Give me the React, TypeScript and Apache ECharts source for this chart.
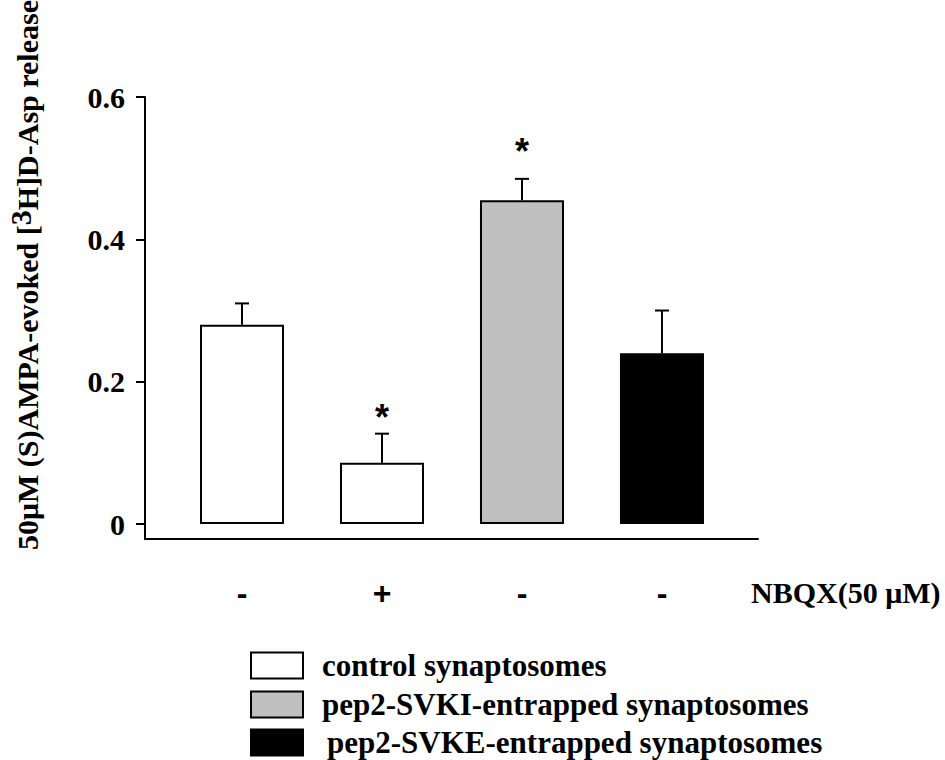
import React, { useEffect, useRef } from "react";
import * as echarts from "echarts";

const groups = ["control synaptosomes", "pep2-SVKI-entrapped synaptosomes", "pep2-SVKE-entrapped synaptosomes"];
const groupColors = ["#ffffff", "#c0c0c0", "#000000"];
const positions = [1, 2, 3, 4];
const barGroup = [0, 0, 1, 2];
const values = [0.28, 0.086, 0.455, 0.24];
const errors = [0.03, 0.041, 0.03, 0.06];
const signif = ["", "*", "*", ""];
const signifAt = [0, 0.156, 0.529, 0];
const nbqxLabels = ["-", "+", "-", "-"];
const yTicks = [0, 0.2, 0.4, 0.6];

const SERIF = "'Liberation Serif', 'Times New Roman', serif";
const SANS = "'Liberation Sans', Arial, sans-serif";

export default function App() {
  const ref = useRef<HTMLDivElement>(null);
  useEffect(() => {
    if (!ref.current) return;
    const chart = echarts.init(ref.current, null, { renderer: "svg" });
    const barSeries = groups.map((name, g) => ({
      type: "bar",
      name,
      barWidth: 84,
      barGap: "-100%",
      itemStyle: {
        color: groupColors[g],
        borderColor: "#000",
        borderWidth: 2,
      },
      data: positions
        .map((p, i) => (barGroup[i] === g ? [p, values[i]] : null))
        .filter((d) => d !== null),
      z: 2,
    }));
    const errSeries = {
      type: "custom",
      name: "err",
      z: 3,
      data: positions.map((p, i) => [p, values[i], errors[i], signifAt[i]]),
      renderItem: (params: any, api: any) => {
        const x = api.value(0);
        const v = api.value(1);
        const e = api.value(2);
        const p0 = api.coord([x, v]);
        const p1 = api.coord([x, v + e]);
        const sig = signif[params.dataIndex];
        const children: any[] = [
          { type: "line", shape: { x1: p0[0], y1: p0[1], x2: p1[0], y2: p1[1] }, style: { stroke: "#000", lineWidth: 2 } },
          { type: "line", shape: { x1: p1[0] - 7, y1: p1[1], x2: p1[0] + 7, y2: p1[1] }, style: { stroke: "#000", lineWidth: 2 } },
        ];
        if (sig) {
          const ps = api.coord([x, api.value(3)]);
          children.push({
            type: "text",
            x: ps[0],
            y: ps[1] + 4,
            style: { text: sig, font: `bold 36px ${SANS}`, fill: "#000", align: "center", verticalAlign: "middle" },
          });
        }
        return { type: "group", children };
      },
    };
    const legendTops = [650, 689, 727];
    const legendLefts = [250, 250, 250];
    const legends = groups.map((name, i) => ({
      data: [name],
      orient: "horizontal",
      left: legendLefts[i],
      top: legendTops[i],
      padding: 0,
      itemWidth: 52,
      itemHeight: 26,
      icon: "rect",
      selectedMode: false,
      textStyle: {
        color: "#000",
        fontFamily: SERIF,
        fontWeight: "bold",
        fontSize: 31,
        lineHeight: 30,
        padding: [0, 0, 0, i === 2 ? 19 : 14],
      },
    }));
    chart.setOption({
      animation: false,
      backgroundColor: "#fff",
      grid: { left: 145, right: 187, top: 97, bottom: 221 },
      xAxis: {
        type: "value",
        min: 0.307,
        max: 4.686,
        splitLine: { show: false },
        axisLine: { show: true, onZero: false, lineStyle: { color: "#000", width: 2 } },
        axisTick: { show: false },
        axisLabel: {
          customValues: positions,
          formatter: (v: number) => nbqxLabels[positions.indexOf(Math.round(v))] ?? "",
          margin: 38,
          color: "#000",
          fontFamily: SANS,
          fontWeight: "bold",
          fontSize: 32,
        },
      },
      yAxis: {
        type: "value",
        min: -0.021,
        max: 0.6,
        splitLine: { show: false },
        axisLine: { show: true, lineStyle: { color: "#000", width: 2 } },
        axisTick: { show: true, customValues: yTicks, length: 9, lineStyle: { color: "#000", width: 2 } },
        axisLabel: {
          customValues: yTicks,
          formatter: (v: number) => (v === 0 ? "0" : v.toFixed(1)),
          margin: 20,
          color: "#000",
          fontFamily: SERIF,
          fontWeight: "bold",
          fontSize: 30,
        },
      },
      legend: legends,
      graphic: [
        {
          type: "text",
          x: 24,
          y: 275,
          rotation: Math.PI / 2,
          style: {
            text: "{n|50μM (S)AMPA-evoked [}{s|3}{n|H]D-Asp release}",
            align: "center",
            verticalAlign: "middle",
            rich: {
              n: { font: `bold 30px ${SERIF}`, fill: "#000", verticalAlign: "bottom", lineHeight: 37 },
              s: { font: `bold 30px ${SERIF}`, fill: "#000", verticalAlign: "top", lineHeight: 37, padding: [0, 0, 16, 0] },
            },
          },
        },
        {
          type: "text",
          x: 751,
          y: 592,
          style: { text: "NBQX(50 μM)", font: `bold 30px ${SERIF}`, fill: "#000", align: "left", verticalAlign: "middle" },
        },
      ],
      series: [...barSeries, errSeries],
    });
    return () => chart.dispose();
  }, []);
  return <div ref={ref} style={{ position: "fixed", left: 0, top: 0, width: 945, height: 760 }} />;
}
